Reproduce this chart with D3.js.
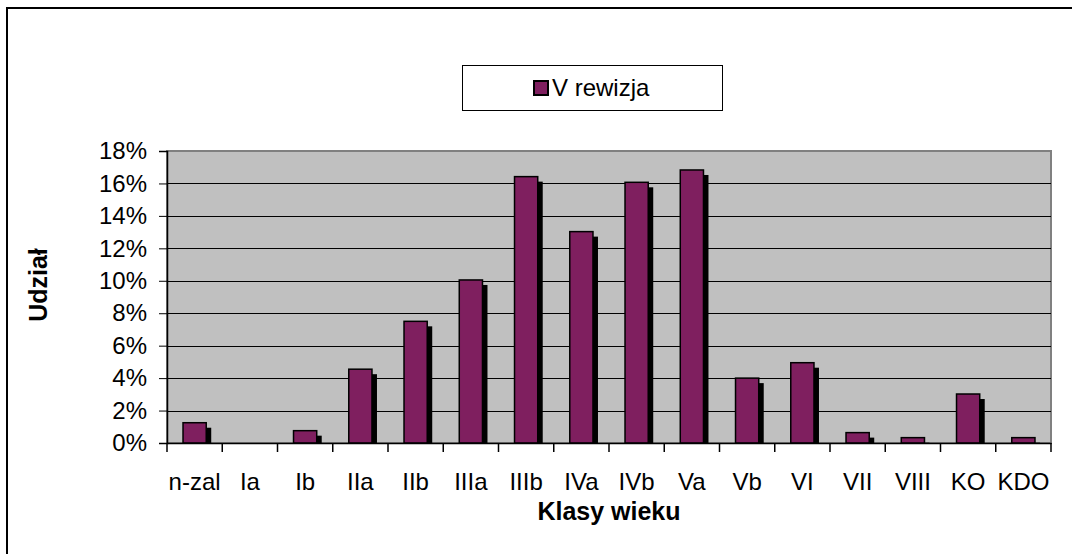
<!DOCTYPE html>
<html>
<head>
<meta charset="utf-8">
<script src="https://cdn.jsdelivr.net/npm/d3@7"></script>
<style>
  body { margin: 0; background: #fff; }
  text { font-family: "Liberation Sans", Arial, sans-serif; }
</style>
</head>
<body>
<div id="chart"></div>
<script>
// age classes and share of each (V revision)
const categories = ['n-zal', 'Ia', 'Ib', 'IIa', 'IIb', 'IIIa', 'IIIb', 'IVa', 'IVb', 'Va', 'Vb', 'VI', 'VII', 'VIII', 'KO', 'KDO'];
const shares = [0.0125, 0, 0.0076, 0.0455, 0.075, 0.1005, 0.1642, 0.1303, 0.1607, 0.1683, 0.04, 0.0495, 0.0064, 0.0033, 0.0302, 0.0033];
const yTicks = [0, 0.02, 0.04, 0.06, 0.08, 0.10, 0.12, 0.14, 0.16, 0.18];
const seriesName = 'V rewizja';
const xTitle = 'Klasy wieku';
const yTitle = 'Udział';

const W = 1072, H = 554;
const margin = { top: 151, right: 21, bottom: 111, left: 167 };
const width = W - margin.left - margin.right;
const height = H - margin.top - margin.bottom;
const barColor = '#7f1f5f';
const fontSize = '24px';

const root = d3.select('#chart').append('svg')
    .attr('width', W)
    .attr('height', H);

// outer chart frame (right/bottom fall outside the picture)
root.append('rect')
    .attr('x', 7).attr('y', 8)
    .attr('width', W + 20).attr('height', H + 20)
    .attr('fill', 'none')
    .attr('stroke', '#000')
    .attr('stroke-width', 2);

const svg = root.append('g')
    .attr('transform', `translate(${margin.left},${margin.top})`);

let x = d3.scaleBand()
    .domain(categories)
    .range([0, width])
    .paddingInner(0)
    .paddingOuter(0);

let y = d3.scaleLinear()
    .domain([0, 0.18])
    .range([height, 0]);

// plot area
svg.append('rect')
    .attr('width', width)
    .attr('height', height)
    .attr('fill', '#c0c0c0')
    .attr('stroke', '#808080')
    .attr('stroke-width', 2);

// grid lines
svg.append('g')
    .selectAll('line')
    .data(yTicks.filter(d => d > 0 && d < 0.18))
    .join('line')
    .attr('x1', 0)
    .attr('x2', width)
    .attr('y1', d => Math.round(y(d)) + 0.5)
    .attr('y2', d => Math.round(y(d)) + 0.5)
    .attr('stroke', '#000')
    .attr('stroke-width', 1);

// bars with a black drop shadow
const bw = x.bandwidth() * 0.42;
const off = 5;
const barData = shares.map((v, i) => ({ c: categories[i], v })).filter(d => d.v > 0);
const bars = svg.append('g');
bars.selectAll('rect.shadow')
    .data(barData)
    .join('rect')
    .attr('class', 'shadow')
    .attr('x', d => x(d.c) + x.bandwidth() / 2 - bw / 2 + off)
    .attr('y', d => y(d.v) + off)
    .attr('width', bw)
    .attr('height', d => Math.max(0, height - y(d.v) - off))
    .attr('fill', '#000');
bars.selectAll('rect.bar')
    .data(barData)
    .join('rect')
    .attr('class', 'bar')
    .attr('x', d => x(d.c) + x.bandwidth() / 2 - bw / 2)
    .attr('y', d => y(d.v))
    .attr('width', bw)
    .attr('height', d => height - y(d.v))
    .attr('fill', barColor)
    .attr('stroke', '#000')
    .attr('stroke-width', 1.5);

// y axis
let yAxis = svg.append('g')
    .call(d3.axisLeft(y).tickValues(yTicks).tickFormat(d3.format('.0%')).tickSize(8).tickPadding(12));
yAxis.select('.domain').attr('stroke', '#000').attr('stroke-width', 1.5);
yAxis.selectAll('text')
    .attr('font-size', fontSize)
    .attr('font-family', '"Liberation Sans", Arial, sans-serif')
    .attr('fill', '#000');

// x axis: labels centred in bands, ticks on band boundaries
let xAxis = svg.append('g')
    .attr('transform', `translate(0,${height})`)
    .call(d3.axisBottom(x).tickSize(0).tickPadding(0));
xAxis.select('.domain').attr('stroke', '#000').attr('stroke-width', 1.5);
xAxis.selectAll('text')
    .attr('y', 47)
    .attr('dy', 0)
    .attr('font-size', fontSize)
    .attr('font-family', '"Liberation Sans", Arial, sans-serif')
    .attr('fill', '#000');
xAxis.append('g')
    .selectAll('line')
    .data(categories.map(c => x(c)).concat([width]))
    .join('line')
    .attr('x1', d => d)
    .attr('x2', d => d)
    .attr('y1', 0)
    .attr('y2', 9)
    .attr('stroke', '#000')
    .attr('stroke-width', 1.5);

// axis titles
svg.append('text')
    .attr('x', width / 2)
    .attr('y', height + 77)
    .attr('text-anchor', 'middle')
    .attr('font-size', '25px')
    .attr('font-weight', 'bold')
    .text(xTitle);
svg.append('text')
    .attr('transform', `translate(${47 - margin.left},${285 - margin.top}) rotate(-90)`)
    .attr('text-anchor', 'middle')
    .attr('font-size', '25px')
    .attr('font-weight', 'bold')
    .text(yTitle);

// legend
const legend = root.append('g');
legend.append('rect')
    .attr('x', 462.5).attr('y', 65.5)
    .attr('width', 260).attr('height', 45)
    .attr('fill', '#fff')
    .attr('stroke', '#000')
    .attr('stroke-width', 1);
legend.append('rect')
    .attr('x', 534).attr('y', 81)
    .attr('width', 14).attr('height', 14)
    .attr('fill', barColor)
    .attr('stroke', '#000')
    .attr('stroke-width', 2);
legend.append('text')
    .attr('x', 552)
    .attr('y', 96)
    .attr('font-size', fontSize)
    .text(seriesName);
</script>
</body>
</html>
